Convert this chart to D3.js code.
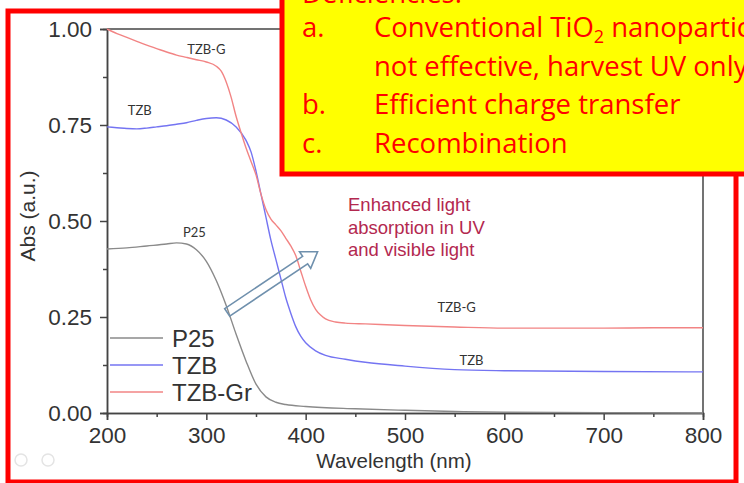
<!DOCTYPE html>
<html>
<head>
<meta charset="utf-8">
<script src="https://cdn.jsdelivr.net/npm/d3@7"></script>
<style>
 body { margin:0; background:#fff; }
 svg { display:block; }
</style>
</head>
<body>
<div id="chart"></div>
<script>
// wavelength grid (nm) for each spectrum
var p25_wl  = [200,220,240,260,270,280,290,300,310,320,330,340,350,360,370,380,400,450,500,550,600,700,800];
var p25_abs = [0.427,0.430,0.435,0.440,0.443,0.440,0.425,0.395,0.345,0.280,0.205,0.135,0.075,0.042,0.028,0.022,0.017,0.011,0.007,0.004,0.002,0.001,0.000];

var tzb_wl  = [200,210,220,230,240,250,260,270,280,290,300,310,320,330,340,345,350,355,360,365,370,375,380,385,390,395,400,410,420,440,460,500,550,600,700,800];
var tzb_abs = [0.745,0.743,0.741,0.740,0.742,0.745,0.748,0.752,0.756,0.762,0.767,0.769,0.763,0.745,0.710,0.680,0.630,0.570,0.510,0.450,0.400,0.350,0.300,0.260,0.225,0.200,0.183,0.162,0.150,0.140,0.132,0.122,0.113,0.110,0.108,0.107];

var tzbg_wl  = [200,210,220,230,240,250,260,270,280,290,300,310,315,320,325,330,335,340,345,350,355,360,365,370,375,380,385,390,395,400,405,410,415,420,430,440,460,500,550,600,650,700,750,800];
var tzbg_abs = [1.000,0.988,0.978,0.968,0.958,0.949,0.940,0.932,0.926,0.920,0.914,0.903,0.890,0.862,0.822,0.772,0.730,0.690,0.655,0.620,0.570,0.530,0.505,0.490,0.475,0.455,0.435,0.410,0.370,0.330,0.295,0.270,0.255,0.245,0.237,0.234,0.232,0.228,0.224,0.221,0.221,0.221,0.222,0.222];

var series_names = ["P25", "TZB", "TZB-Gr"];
var series_colors = ["#8a8a8a", "#7474f2", "#f28484"];

var x_ticks = [200,300,400,500,600,700,800];
var x_minor = [250,350,450,550,650,750];
var y_ticks = [0,0.25,0.5,0.75,1];
var y_minor = [0.125,0.375,0.625,0.875];

// curve labels: [text, wavelength, abs]
var curve_labels = [["TZB-G",300,0.935],["TZB",233,0.775],["P25",288,0.458],["TZB-G",552,0.263],["TZB",567,0.125]];
var note_lines = ["Enhanced light","absorption in UV","and visible light"];
var arrow_from = [321,0.262], arrow_to = [412,0.42];

var box_items = ["a.","","b.","c."];
var box_lines = ["Conventional TiO|2| nanoparticles are","not effective, harvest UV only","Efficient charge transfer","Recombination"];

var W = 744, H = 483;
var svg = d3.select("#chart").append("svg").attr("width", W).attr("height", H);

var x = d3.scaleLinear().domain([200,800]).range([107,703]);
var y = d3.scaleLinear().domain([0,1]).range([413,29]);

var axisCol = "#444";
var fontA = "'Liberation Sans', Arial, sans-serif";

// frame (top + right)
svg.append("line").attr("x1", x(200)).attr("x2", x(800)).attr("y1", y(1)).attr("y2", y(1)).attr("stroke", axisCol).attr("stroke-width", 1.5);
svg.append("line").attr("x1", x(800)).attr("x2", x(800)).attr("y1", y(1)).attr("y2", y(0)).attr("stroke", axisCol).attr("stroke-width", 1.5);

var xAxis = svg.append("g").attr("transform", "translate(0," + y(0) + ")")
 .call(d3.axisBottom(x).tickValues(x_ticks).tickSize(7).tickPadding(7).tickFormat(d3.format("d")));
var xMinor = svg.append("g").attr("transform", "translate(0," + y(0) + ")")
 .call(d3.axisBottom(x).tickValues(x_minor).tickSize(4).tickFormat(""));
var yAxis = svg.append("g").attr("transform", "translate(" + x(200) + ",0)")
 .call(d3.axisLeft(y).tickValues(y_ticks).tickSize(7).tickPadding(8).tickFormat(d3.format(".2f")));
var yMinor = svg.append("g").attr("transform", "translate(" + x(200) + ",0)")
 .call(d3.axisLeft(y).tickValues(y_minor).tickSize(4).tickFormat(""));

[xAxis, xMinor, yAxis, yMinor].forEach(function(g){
 g.select(".domain").attr("stroke", axisCol).attr("stroke-width", 1.5);
 g.selectAll(".tick line").attr("stroke", axisCol).attr("stroke-width", 1.5);
 g.selectAll("text").attr("font-family", fontA).attr("font-size", 22.5).attr("fill", "#333");
});

svg.append("text").attr("x", 394).attr("y", 468).attr("text-anchor", "middle")
 .attr("font-family", fontA).attr("font-size", 20.5).attr("fill", "#333").text("Wavelength (nm)");
svg.append("text").attr("transform", "translate(35,216) rotate(-90)").attr("text-anchor", "middle")
 .attr("font-family", fontA).attr("font-size", 21).attr("fill", "#333").text("Abs (a.u.)");

// spectra
var line = d3.line().x(function(d){ return x(d[0]); }).y(function(d){ return y(d[1]); }).curve(d3.curveMonotoneX);
var spectra = [d3.zip(p25_wl, p25_abs), d3.zip(tzb_wl, tzb_abs), d3.zip(tzbg_wl, tzbg_abs)];
spectra.forEach(function(s, i){
 svg.append("path").attr("d", line(s)).attr("fill", "none")
  .attr("stroke", series_colors[i]).attr("stroke-width", 1.4);
});

// legend
series_names.forEach(function(n, i){
 var ly = 338 + i * 27;
 svg.append("line").attr("x1", 110).attr("x2", 163).attr("y1", ly).attr("y2", ly)
  .attr("stroke", series_colors[i]).attr("stroke-width", 1.4);
 svg.append("text").attr("x", 172).attr("y", ly + 9).attr("font-family", fontA).attr("font-size", 24)
  .attr("fill", "#333").text(n);
});

// curve labels
curve_labels.forEach(function(c){
 svg.append("text").attr("x", x(c[1])).attr("y", y(c[2])).attr("text-anchor", "middle")
  .attr("font-family", "Lato, sans-serif").attr("font-size", 13).attr("fill", "#333").text(c[0]);
});

// annotation text
note_lines.forEach(function(t, i){
 svg.append("text").attr("x", 348).attr("y", 211 + i * 22.5).attr("font-family", fontA)
  .attr("font-size", 18.5).attr("fill", "#b3284f").text(t);
});

// hollow arrow
var ax0 = x(arrow_from[0]), ay0 = y(arrow_from[1]), ax1 = x(arrow_to[0]), ay1 = y(arrow_to[1]);
var len = Math.hypot(ax1 - ax0, ay1 - ay0), ux = (ax1 - ax0) / len, uy = (ay1 - ay0) / len;
var nx = -uy, ny = ux, sw = 4.5, hw = 10, hl = 15;
function pt(a, b){ return [ax0 + ux * a + nx * b, ay0 + uy * a + ny * b]; }
var arrowPts = [pt(0, sw), pt(len - hl, sw), pt(len - hl, hw), pt(len, 0), pt(len - hl, -hw), pt(len - hl, -sw), pt(0, -sw)];
svg.append("path").attr("d", "M" + arrowPts.map(function(p){ return p.join(","); }).join("L") + "Z")
 .attr("fill", "none").attr("stroke", "#6f90ad").attr("stroke-width", 1.6);

// outer red frame
svg.append("rect").attr("x", 8).attr("y", 11).attr("width", 728).attr("height", 471)
 .attr("fill", "none").attr("stroke", "#ff0000").attr("stroke-width", 5);

// faint viewer icons
[21, 48].forEach(function(cx){
 svg.append("circle").attr("cx", cx).attr("cy", 460).attr("r", 6).attr("fill", "none")
  .attr("stroke", "#e4e4e4").attr("stroke-width", 1.5);
});

// yellow callout box
svg.append("rect").attr("x", 282).attr("y", -20).attr("width", 500).attr("height", 194)
 .attr("fill", "#ffff00").attr("stroke", "#ff0000").attr("stroke-width", 5);
var fontB = "'Open Sans', sans-serif";
svg.append("text").attr("x", 302).attr("y", 3).attr("font-family", fontB).attr("font-size", 27.5)
 .attr("fill", "#ff0000").text("Deficiencies:");
box_lines.forEach(function(t, i){
 var by = 37 + i * 38.5;
 if (box_items[i]) svg.append("text").attr("x", 302).attr("y", by).attr("font-family", fontB)
  .attr("font-size", 27.5).attr("fill", "#ff0000").text(box_items[i]);
 var tx = svg.append("text").attr("x", 374).attr("y", by).attr("font-family", fontB)
  .attr("font-size", 27.5).attr("fill", "#ff0000");
 t.split("|").forEach(function(part, k){
  var ts = tx.append("tspan").text(part);
  if (k == 1) ts.attr("dy", 6).attr("font-size", 18);
  if (k == 2) ts.attr("dy", -6);
 });
});
</script>
</body>
</html>
